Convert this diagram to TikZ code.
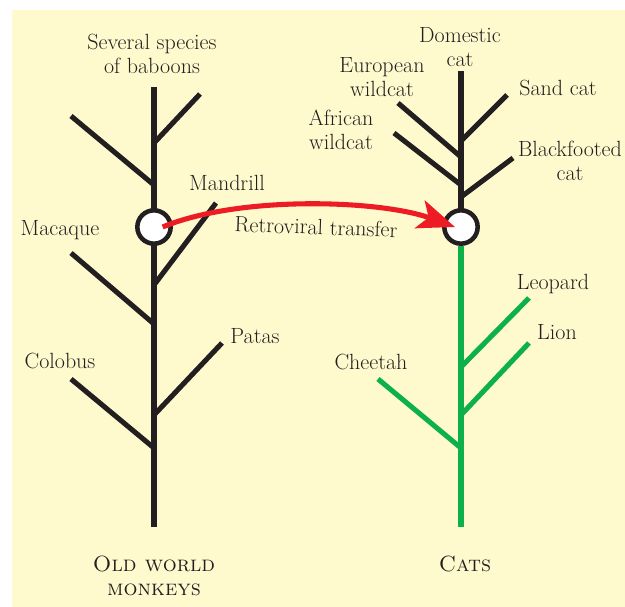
\documentclass[tikz,border=0pt]{standalone}
\usepackage{tikz}
\usetikzlibrary{arrows.meta}
\definecolor{paper}{RGB}{255,250,206}
\definecolor{ink}{RGB}{35,31,32}
\definecolor{catgreen}{RGB}{13,177,75}
\definecolor{virusred}{RGB}{237,28,36}
\tikzset{
  lineage/.style={draw=ink,line width=3.8pt},
  catline/.style={draw=catgreen,line width=3.8pt},
  hub/.style={circle,draw=ink,line width=3.4pt,fill=white,minimum size=25pt,inner sep=0pt},
  twoline/.style={align=center,inner sep=1pt},
  transfer/.style={draw=virusred,line width=3.8pt,-{Stealth[length=28pt,width=22pt,inset=7pt]}}
}

\begin{document}
\begin{tikzpicture}[x=0.75pt,y=-0.75pt,font=\fontsize{16.5}{18}\selectfont,text=ink]
\useasboundingbox (0,0) rectangle (625,607);
\fill[paper] (12,10) rectangle (625,607);

% old world monkeys
\coordinate (owtop) at (154,87);
\coordinate (owroot) at (154,527);
\path[lineage] (owtop) -- (owroot);
\coordinate (ja) at (154,143);
\coordinate (jb) at (154,185);
\coordinate (jc) at (154,285);
\coordinate (jd) at (154,324);
\coordinate (je) at (154,415);
\coordinate (jf) at (154,448);
\path[lineage] (ja) -- (200,94);
\path[lineage] (jb) -- (71,116);
\path[lineage] (jc) -- (216,203);
\path[lineage] (jd) -- (71,253);
\path[lineage] (je) -- (222,343);
\path[lineage] (jf) -- (71,379);
\draw (154,227) node[hub] (owhub) {};

\draw (152,54) node[twoline] (baboons) {Several species\\of baboons};
\draw (227,183) node (mandrill) {Mandrill};
\draw (60,230) node (macaque) {Macaque};
\draw (255,336) node (patas) {Patas};
\draw (60,361) node (colobus) {Colobus};
\draw (154,576) node[twoline] (owm) {\textsc{Old world}\\\textsc{monkeys}};

% cats
\coordinate (cattop) at (461,71);
\coordinate (catroot) at (461,527);
\path[lineage] (cattop) -- (461,227);
\draw (461,227) node[hub] (cathub) {};
\path[catline] (cathub) -- (catroot);
\coordinate (ka) at (461,141);
\coordinate (kb) at (461,157);
\coordinate (kc) at (461,185);
\coordinate (kd) at (461,197);
\path[lineage] (ka) -- (507,95);
\path[lineage] (kb) -- (398,103);
\path[lineage] (kc) -- (394,133);
\path[lineage] (kd) -- (513,158);
\coordinate (ke) at (461,367);
\coordinate (kf) at (461,415);
\coordinate (kg) at (461,448);
\path[catline] (ke) -- (529,298);
\path[catline] (kf) -- (529,343);
\path[catline] (kg) -- (378,379);

\draw (460,47) node[twoline] (domestic) {Domestic\\cat};
\draw (382,77) node[twoline] (european) {European\\wildcat};
\draw (341,130) node[twoline] (african) {African\\wildcat};
\draw (558,88) node (sand) {Sand cat};
\draw (570,161) node[twoline] (blackfooted) {Blackfooted\\cat};
\draw (553,284) node (leopard) {Leopard};
\draw (557,332) node (lion) {Lion};
\draw (371,362) node (cheetah) {Cheetah};
\draw (465,564) node (cats) {\textsc{Cats}};

% the virus jumps across
\path[transfer] ([xshift=6.5pt]owhub.center) .. controls (240,195) and (380,200) .. ([xshift=-4.5pt]cathub.center);
\draw (316,227) node[rotate=-2] (retro) {Retroviral transfer};
\end{tikzpicture}
\end{document}
